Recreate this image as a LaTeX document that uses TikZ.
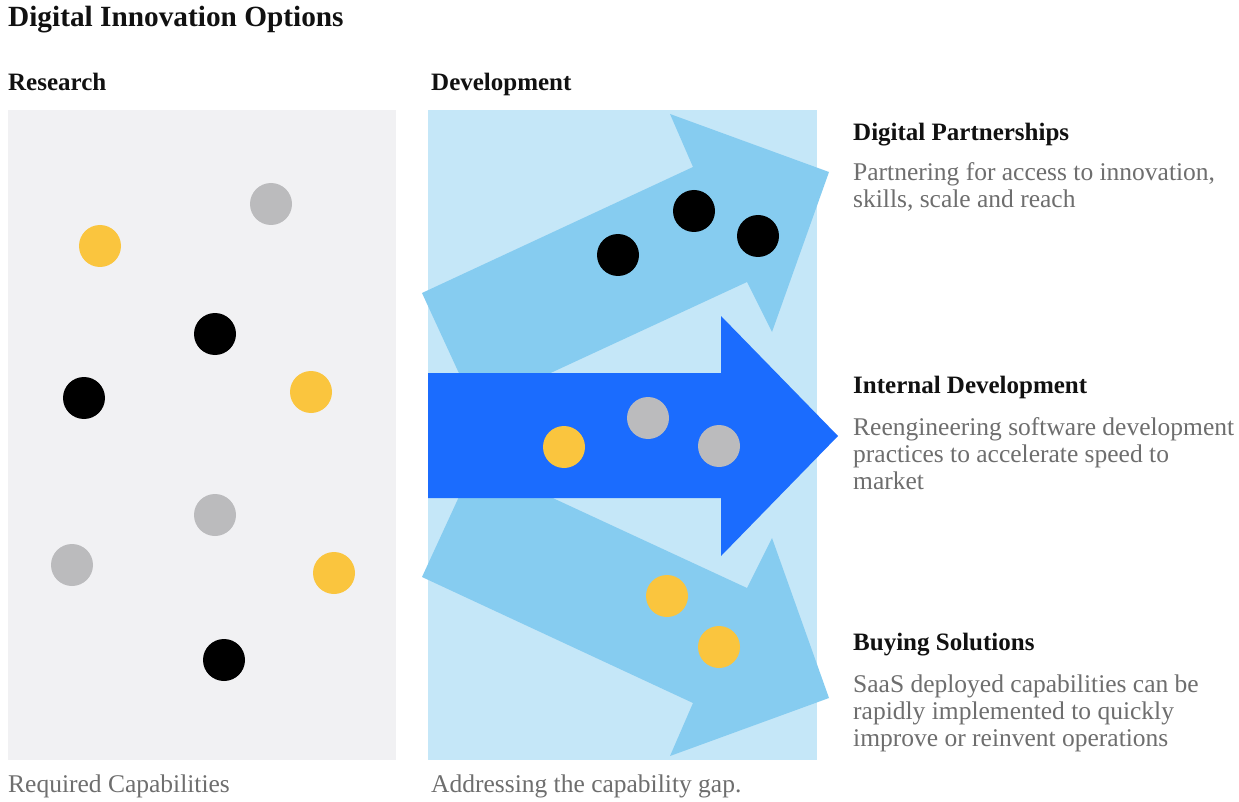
\documentclass[tikz,border=0pt]{standalone}
\usepackage{fontspec}
\setmainfont{Liberation Serif}
\definecolor{panelgray}{HTML}{F1F1F3}
\definecolor{panelblue}{HTML}{C5E7F8}
\definecolor{arrowlight}{HTML}{86CCF0}
\definecolor{arrowblue}{HTML}{1B6CFE}
\definecolor{dotyellow}{HTML}{FAC53E}
\definecolor{dotgray}{HTML}{BBBBBD}
\definecolor{bodygray}{HTML}{6E6E6E}
\definecolor{headblack}{HTML}{111111}
\begin{document}
\begin{tikzpicture}[x=1pt,y=-1pt,
  dot/.style={circle,inner sep=0pt,minimum size=42pt,draw=none},
  ydot/.style={dot,fill=dotyellow},
  gdot/.style={dot,fill=dotgray},
  bdot/.style={dot,fill=black},
  titletext/.style={anchor=base west,inner sep=0pt,text=headblack,font=\fontsize{29.3}{32}\selectfont\bfseries},
  headtext/.style={anchor=base west,inner sep=0pt,text=headblack,font=\fontsize{25}{27}\selectfont\bfseries},
  bodytext/.style={anchor=base west,inner sep=0pt,text=bodygray,align=left,font=\fontsize{25.5}{27}\selectfont}
]
\fill[white] (0,0) rectangle (1239,802);
\useasboundingbox (0,0) rectangle (1239,802);

% panels
\fill[panelgray] (8,110) rectangle (396,760);
\fill[panelblue] (428,110) rectangle (817,760);

% light arrows
\fill[arrowlight] (422,293) -- (693,167) -- (670,114) -- (829,172) -- (772,332) -- (747,282) -- (475,408) -- cycle;
\fill[arrowlight] (422,577) -- (693,703) -- (670,756) -- (829,698) -- (772,538) -- (747,588) -- (475,462) -- cycle;
% main arrow
\fill[arrowblue] (428,373) -- (721,373) -- (721,316) -- (838,436) -- (721,556) -- (721,498) -- (428,498) -- cycle;

% left dots
\node[gdot] (l1) at (271,204) {};
\node[ydot] (l2) at (100,246) {};
\node[bdot] (l3) at (215,334) {};
\node[bdot] (l4) at (84,398) {};
\node[ydot] (l5) at (311,392) {};
\node[gdot] (l6) at (215,515) {};
\node[gdot] (l7) at (72,565) {};
\node[ydot] (l8) at (334,573) {};
\node[bdot] (l9) at (224,660) {};

% arrow dots
\node[bdot] (t1) at (618,255) {};
\node[bdot] (t2) at (694,211) {};
\node[bdot] (t3) at (758,236) {};
\node[ydot] (m1) at (564,447) {};
\node[gdot] (m2) at (648,418) {};
\node[gdot] (m3) at (719,446) {};
\node[ydot] (b1) at (667,596) {};
\node[ydot] (b2) at (719,647) {};

% texts
\node[titletext] (title) at (8,27) {Digital Innovation Options};
\node[headtext] (research) at (8,91) {Research};
\node[headtext] (development) at (431,91) {Development};

\node[headtext] (h1) at (853,141) {Digital Partnerships};
\node[bodytext] (p1) at (853,208) {Partnering for access to innovation,\\skills, scale and reach};
\node[headtext] (h2) at (853,393) {Internal Development};
\node[bodytext] (p2) at (853,489) {Reengineering software development\\practices to accelerate speed to\\market};
\node[headtext] (h3) at (853,650) {Buying Solutions};
\node[bodytext] (p3) at (853,746) {SaaS deployed capabilities can be\\rapidly implemented to quickly\\improve or reinvent operations};

\node[bodytext] (f1) at (8,792) {Required Capabilities};
\node[bodytext] (f2) at (431,792) {Addressing the capability gap.};
\end{tikzpicture}
\end{document}
